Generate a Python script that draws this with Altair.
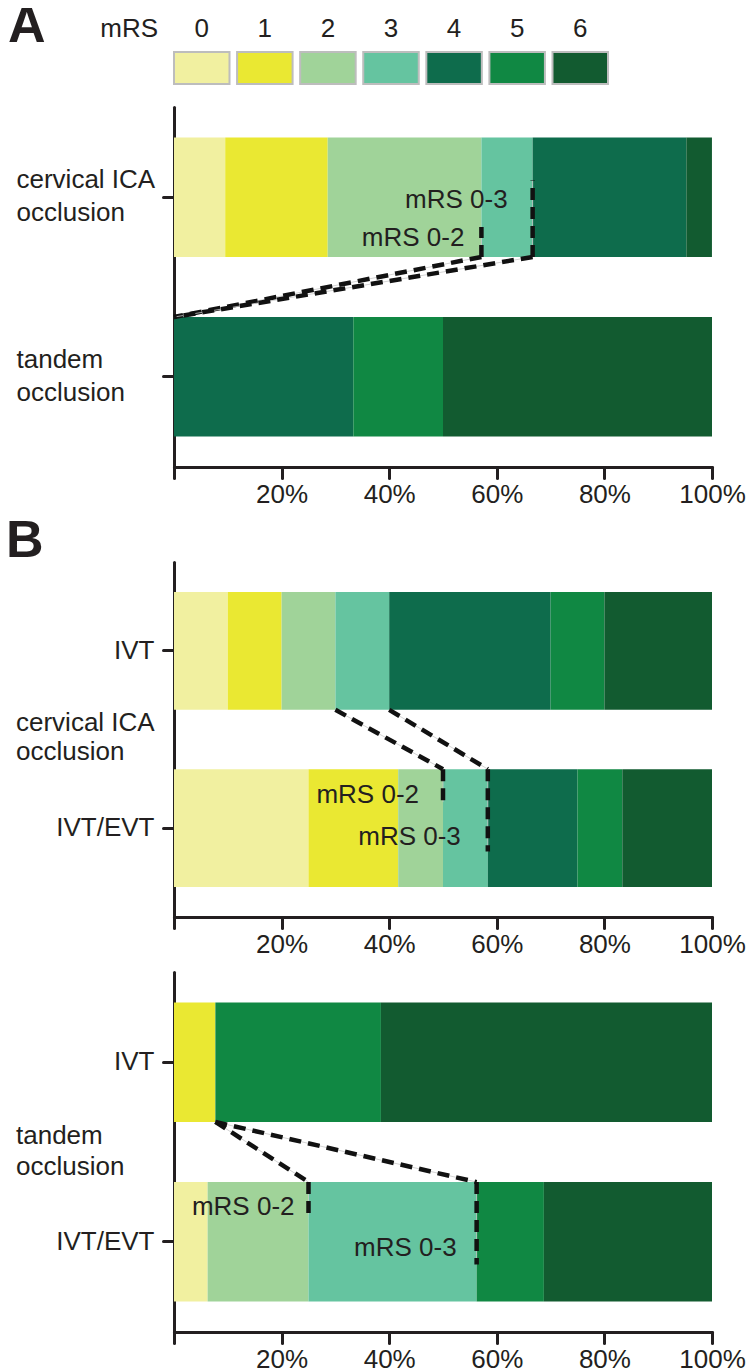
import altair as alt
import pandas as pd

FONT = "Liberation Sans"
INK = "#231F20"

# ---------------- data ----------------
levels = ["0", "1", "2", "3", "4", "5", "6"]
colors = ["#F1F0A0", "#EAE832", "#A0D399", "#65C4A0", "#0E6C4C", "#108843", "#125B30"]

a_rows = ["cervical ICA\nocclusion", "tandem\nocclusion"]
a_cervical = [9.52, 19.05, 28.57, 9.52, 28.57, 0.0, 4.76]
a_tandem = [0.0, 0.0, 0.0, 0.0, 33.33, 16.67, 50.0]

b1_rows = ["IVT", "IVT/EVT"]
b1_ivt = [10.0, 10.0, 10.0, 10.0, 30.0, 10.0, 20.0]
b1_evt = [25.0, 16.67, 8.33, 8.33, 16.67, 8.33, 16.67]

b2_rows = ["IVT", "IVT/EVT"]
b2_ivt = [0.0, 7.69, 0.0, 0.0, 0.0, 30.77, 61.54]
b2_evt = [6.25, 0.0, 18.75, 31.25, 0.0, 12.5, 31.25]

group_b1 = ["cervical ICA", "occlusion"]
group_b2 = ["tandem", "occlusion"]
tick_values = [0, 20, 40, 60, 80, 100]

# ---------------- layout constants ----------------
W = 538
PI, PO = 0.335, 0.17
XS = alt.Scale(domain=[0, 100], nice=False, zero=True)
CS = alt.Scale(domain=levels, range=colors)
XAXIS = alt.Axis(values=tick_values, title=None, labelAngle=0, labelFlush=False, labelOverlap=False,
                 labelPadding=3,
                 labelExpr="datum.value == 0 ? '' : datum.value + '%'")
YA = alt.Axis(labelExpr="split(datum.label, '\\n')", labelAlign="left", labelPadding=147,
              labelLineHeight=33, labelBaseline="middle", labelOffset=-17, title=None)
YB = alt.Axis(labelAlign="right", labelPadding=9, labelBaseline="middle", title=None)


def cum(s, k):
    return round(sum(s[: k + 1]), 2)


def yenc(field, rows, axis, bp=None):
    kw = dict(sort=rows, scale=alt.Scale(domain=rows, paddingInner=PI, paddingOuter=PO), title=None, axis=axis)
    if bp is not None:
        kw["bandPosition"] = bp
    return alt.Y(field, type="nominal", **kw)


def bars(rows, series, yaxis):
    recs = []
    for r, s in zip(rows, series):
        for i, (l, v) in enumerate(zip(levels, s)):
            recs.append({"row": r, "lvl": i, "mRS": l, "pct": v})
    df = pd.DataFrame(recs)
    return alt.Chart(df).mark_bar().encode(
        x=alt.X("pct:Q", stack="zero", scale=XS, axis=XAXIS, title=None),
        y=yenc("row", rows, yaxis),
        color=alt.Color("mRS:N", scale=CS, legend=None),
        order=alt.Order("lvl:Q", sort="ascending"),
    )


def seg(rows, yaxis, r1, bp1, x1, r2, bp2, x2):
    d = pd.DataFrame({"row": [r1], "r2": [r2], "pct": [x1], "x2": [x2]})
    base = alt.Chart(d).encode(
        x=alt.X("pct:Q", scale=XS, axis=XAXIS, title=None),
        x2="x2:Q",
        y=yenc("row", rows, yaxis, bp=bp1),
        y2=alt.Y2("r2", bandPosition=bp2),
    )
    return [base.mark_rule(color="#c8c8c8", strokeWidth=0.8),
            base.mark_rule(color="#111111", strokeWidth=4.5, strokeDash=[12, 7])]


def note(rows, yaxis, r, bp, x, dx, label):
    d = pd.DataFrame({"row": [r], "pct": [x], "t": [label]})
    return alt.Chart(d).mark_text(align="right", baseline="middle", dx=dx, fontSize=26,
                                  font=FONT, color=INK).encode(
        x=alt.X("pct:Q", scale=XS, axis=XAXIS, title=None),
        y=yenc("row", rows, yaxis, bp=bp),
        text="t:N",
    )


dummy = pd.DataFrame({"v": [0]})


def free_text(text, x, y, size=26, weight="normal", align="left", baseline="alphabetic", lh=29):
    return alt.Chart(dummy).mark_text(text=text, fontSize=size, fontWeight=weight, font=FONT,
                                      color=INK, align=align, baseline=baseline, lineHeight=lh).encode(
        x=alt.value(x), y=alt.value(y))


def spacer(h):
    return alt.Chart(dummy).mark_point(opacity=0).encode(x=alt.value(0), y=alt.value(0)).properties(
        width=1, height=h)


# ---------------- legend ----------------
leg_df = pd.DataFrame({"mRS": levels})
LX = alt.X("mRS:N", sort=levels, scale=alt.Scale(domain=levels, paddingInner=0.12, paddingOuter=0), axis=None)
legend = alt.layer(
    alt.Chart(leg_df).mark_rect(stroke="#BDBDBD", strokeWidth=2).encode(
        x=LX, color=alt.Color("mRS:N", scale=CS, legend=None)),
    alt.Chart(leg_df).mark_text(fontSize=26, font=FONT, color=INK, baseline="alphabetic").encode(
        x=LX, y=alt.value(-15), text="mRS:N"),
    free_text("mRS", -16, -15, align="right"),
    free_text("A", -166, -10, size=52, weight="bold"),
).properties(width=434, height=32)

# ---------------- panel A ----------------
panelA = alt.layer(
    bars(a_rows, [a_cervical, a_tandem], YA),
    *seg(a_rows, YA, a_rows[0], 1, cum(a_cervical, 2), a_rows[1], 0, cum(a_tandem, 2)),
    *seg(a_rows, YA, a_rows[0], 1, cum(a_cervical, 3), a_rows[1], 0, cum(a_tandem, 3)),
    *seg(a_rows, YA, a_rows[0], 1, cum(a_cervical, 2), a_rows[0], 0.75, cum(a_cervical, 2)),
    *seg(a_rows, YA, a_rows[0], 1, cum(a_cervical, 3), a_rows[0], 0.36, cum(a_cervical, 3)),
    note(a_rows, YA, a_rows[0], 0.52, cum(a_cervical, 3), -25, "mRS 0-3"),
    note(a_rows, YA, a_rows[0], 0.84, cum(a_cervical, 2), -17, "mRS 0-2"),
).properties(width=W, height=360)

# ---------------- panel B (cervical) ----------------
panelB1 = alt.layer(
    bars(b1_rows, [b1_ivt, b1_evt], YB),
    *seg(b1_rows, YB, b1_rows[0], 1, cum(b1_ivt, 2), b1_rows[1], 0, cum(b1_evt, 2)),
    *seg(b1_rows, YB, b1_rows[0], 1, cum(b1_ivt, 3), b1_rows[1], 0, cum(b1_evt, 3)),
    *seg(b1_rows, YB, b1_rows[1], 0, cum(b1_evt, 2), b1_rows[1], 0.28, cum(b1_evt, 2)),
    *seg(b1_rows, YB, b1_rows[1], 0, cum(b1_evt, 3), b1_rows[1], 0.70, cum(b1_evt, 3)),
    note(b1_rows, YB, b1_rows[1], 0.22, cum(b1_evt, 2), -24, "mRS 0-2"),
    note(b1_rows, YB, b1_rows[1], 0.58, cum(b1_evt, 3), -27, "mRS 0-3"),
    free_text(group_b1, -158, 169),
    free_text("B", -168, -5, size=52, weight="bold"),
).properties(width=W, height=355)

# ---------------- panel B (tandem) ----------------
panelB2 = alt.layer(
    bars(b2_rows, [b2_ivt, b2_evt], YB),
    *seg(b2_rows, YB, b2_rows[0], 1, cum(b2_ivt, 2), b2_rows[1], 0, cum(b2_evt, 2)),
    *seg(b2_rows, YB, b2_rows[0], 1, cum(b2_ivt, 3), b2_rows[1], 0, cum(b2_evt, 3)),
    *seg(b2_rows, YB, b2_rows[1], 0, cum(b2_evt, 2), b2_rows[1], 0.27, cum(b2_evt, 2)),
    *seg(b2_rows, YB, b2_rows[1], 0, cum(b2_evt, 3), b2_rows[1], 0.69, cum(b2_evt, 3)),
    note(b2_rows, YB, b2_rows[1], 0.21, cum(b2_evt, 2), -14, "mRS 0-2"),
    note(b2_rows, YB, b2_rows[1], 0.55, cum(b2_evt, 3), -20, "mRS 0-3"),
    free_text(group_b2, -158, 172, lh=31),
).properties(width=W, height=360)

chart = alt.vconcat(
    legend, spacer(23), panelA, spacer(95), panelB1, spacer(55), panelB2,
    spacing=0, bounds="flush",
).properties(
    padding={"left": -2, "top": -8, "right": 0, "bottom": 0}
).configure_view(stroke=None).configure_axis(
    domainColor=INK, domainWidth=3, domainCap="round",
    tickColor=INK, tickWidth=3, tickSize=11, tickCap="round",
    labelFont=FONT, labelFontSize=26, labelColor=INK,
    grid=False, zindex=1,
)

chart.save("out.html", embed_options={"renderer": "svg", "actions": False})
